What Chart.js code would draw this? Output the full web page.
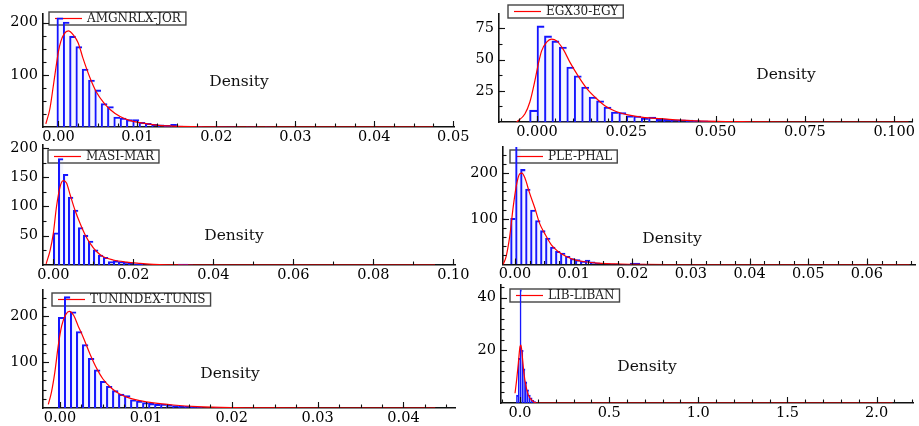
<!DOCTYPE html>
<html><head><meta charset="utf-8">
<script src="https://cdn.jsdelivr.net/npm/chart.js@4.4.1/dist/chart.umd.min.js"></script>
<style>
html,body{margin:0;padding:0;background:#fff;width:919px;height:426px;overflow:hidden}
canvas{position:absolute;left:0;top:0}
</style></head><body>
<canvas id="c1" width="919" height="446"></canvas>
<canvas id="c2" width="919" height="446"></canvas>
<canvas id="c3" width="919" height="446"></canvas>
<canvas id="c4" width="919" height="446"></canvas>
<canvas id="c5" width="919" height="446"></canvas>
<canvas id="c6" width="919" height="446"></canvas>
<script>
// ---------- DATA ----------
// AMGNRLX-JOR
const amgBinStart = -0.0002, amgBinWidth = 0.0008;
const amgCounts = [209, 201, 174, 154, 111, 90, 71, 45, 39, 19, 17, 14, 14, 9, 7, 5, 4, 3, 5, 2, 1.5, 1, 0.8, 0.5, 0.5, 0.3, 0.3, 0.3, 0.5, 0, 0.5, 0.5, 0, 0.5];
const amgDensX = [-0.0016, -0.0011, -0.00066, -0.0003, 0, 0.0003, 0.0007, 0.00125, 0.0019, 0.0025, 0.0031, 0.004, 0.0048, 0.0057, 0.0065, 0.0078, 0.009, 0.0103, 0.0124, 0.0145, 0.018, 0.022, 0.0475];
const amgDensY = [6, 34, 78, 116, 145, 164, 178, 184, 176, 161, 132, 94, 67, 47, 34, 20, 12.6, 8.4, 3.6, 1.8, 0.5, 0, 0];
const amgXTicks = [0, 0.01, 0.02, 0.03, 0.04, 0.05];
const amgYTicks = [100, 200];

// EGX30-EGY
const egxBinStart = -0.0020833, egxBinWidth = 0.0020833;
const egxCounts = [9.5, 77, 69, 65, 60, 44, 37, 28, 20, 17, 12, 8, 7.6, 5, 4.7, 3.2, 3.9, 2.2, 2.2, 1.8, 1.8, 1.5, 1.2, 1.0, 0.8, 0.6, 0.5, 0.5, 0.4];
const egxDensX = [-0.0057, -0.0034, -0.002, -0.0006, 0.0004, 0.0013, 0.0027, 0.0041, 0.0055, 0.0074, 0.0092, 0.0115, 0.0139, 0.0162, 0.019, 0.0218, 0.0255, 0.0302, 0.0348, 0.04, 0.05, 0.06, 0.07, 0.104];
const egxDensY = [0, 6.4, 16, 33, 47, 57, 64, 66.4, 65, 58, 48, 37, 27, 20, 13, 8.8, 5.7, 3.5, 2.7, 1.5, 0.5, 0.2, 0, 0];
const egxXTicks = [0, 0.025, 0.05, 0.075, 0.1];
const egxYTicks = [25, 50, 75];

// MASI-MAR
const masiBinStart = 0, masiBinWidth = 0.00125;
const masiCounts = [55, 182, 155, 116, 94, 64, 51, 41, 26, 17, 13, 6, 7.4, 6, 5, 3.5, 2, 1, 0.5, 0, 0, 0, 0, 0, 0, 1.5, 1.5, 0.5];
const masiDensX = [-0.0018, -0.0008, 0, 0.0008, 0.0017, 0.0025, 0.0033, 0.0042, 0.0054, 0.0067, 0.008, 0.0092, 0.0108, 0.0125, 0.015, 0.0183, 0.0217, 0.025, 0.03, 0.035, 0.0954];
const masiDensY = [2, 25, 54, 100, 134, 144, 140, 120, 94, 71, 51, 37, 23, 14, 8.5, 5, 2.8, 1, 0.3, 0, 0];
const masiXTicks = [0, 0.02, 0.04, 0.06, 0.08, 0.1];
const masiYTicks = [50, 100, 150, 200];

// PLE-PHAL
const pleBinStart = -0.00075, pleBinWidth = 0.00085;
const pleCounts = [101, 300, 208, 165, 119, 96, 74, 58, 38, 29, 25, 18, 13, 10.5, 7.6, 9.8, 6, 3.5, 2.8, 2, 1.5, 1, 0.5, 0.5, 3, 3, 1, 0.5];
const pleDensX = [-0.002, -0.0015, -0.0009, -0.0003, 0.0002, 0.0008, 0.0012, 0.0017, 0.0025, 0.0034, 0.0042, 0.0051, 0.0062, 0.0073, 0.0085, 0.0102, 0.0119, 0.0141, 0.018, 0.022, 0.026, 0.0673];
const pleDensY = [0, 18, 61, 126, 170, 198, 200, 189, 156, 123, 90, 67, 43, 29, 19, 10, 6, 3, 1, 0.3, 0, 0];
const pleXTicks = [0, 0.01, 0.02, 0.03, 0.04, 0.05, 0.06];
const pleYTicks = [100, 200];

// TUNINDEX-TUNIS
const tunBinStart = -0.0002, tunBinWidth = 0.0007;
const tunCounts = [197, 242, 209, 166, 138, 108, 83, 58, 47, 38, 30, 27, 18, 15, 12, 10, 8, 8.7, 7, 5, 4, 3.5, 3, 2, 0.5, 0, 1.5];
const tunDensX = [-0.00136, -0.001, -0.0006, -0.0002, 0.0002, 0.0007, 0.0011, 0.0016, 0.0021, 0.0027, 0.0035, 0.0043, 0.005, 0.006, 0.007, 0.0082, 0.0093, 0.0109, 0.0132, 0.016, 0.02, 0.025, 0.03, 0.0437];
const tunDensY = [8, 34, 78, 136, 179, 204, 210, 201, 179, 154, 117, 85, 63, 43, 30, 21, 16, 11, 6.5, 3, 1, 0.3, 0, 0];
const tunXTicks = [0, 0.01, 0.02, 0.03, 0.04];
const tunYTicks = [100, 200];

// LIB-LIBAN
const libBinStart = -0.02, libBinWidth = 0.01;
const libCounts = [3, 17, 43, 20, 13, 8, 5, 3, 2, 1, 0.5];
const libDensX = [-0.028, -0.019, -0.0095, 0, 0.0056, 0.013, 0.022, 0.034, 0.047, 0.066, 0.094, 2.09];
const libDensY = [3.7, 8.7, 15, 21.4, 22, 17.6, 11.3, 6.2, 3, 1.1, 0, 0];
const libXTicks = [0, 0.5, 1.0, 1.5, 2.0];
const libYTicks = [20, 40];

// ---------- PANELS ----------
const panels = [
  {id:'c1', name:'AMGNRLX-JOR', bs:amgBinStart, bw:amgBinWidth, counts:amgCounts, dx:amgDensX, dy:amgDensY, xt:amgXTicks, yt:amgYTicks, dec:2,
   xMin:-0.00196, xMax:0.0501, yMax:217, xMinor:0.0025, yMinor:25, area:{l:43,t:12,r:454,b:127}, leg:{x:49,y:12}, lab:{x:239,y:86}},
  {id:'c2', name:'EGX30-EGY', bs:egxBinStart, bw:egxBinWidth, counts:egxCounts, dx:egxDensX, dy:egxDensY, xt:egxXTicks, yt:egxYTicks, dec:3,
   xMin:-0.01064, xMax:0.105, yMax:86.8, xMinor:0.005, yMinor:12.5, area:{l:499,t:4,r:912,b:122}, leg:{x:508,y:5}, lab:{x:786,y:79}},
  {id:'c3', name:'MASI-MAR', bs:masiBinStart, bw:masiBinWidth, counts:masiCounts, dx:masiDensX, dy:masiDensY, xt:masiXTicks, yt:masiYTicks, dec:2,
   xMin:-0.00258, xMax:0.1004, yMax:205, xMinor:0.01, yMinor:25, area:{l:43,t:145,r:455,b:265}, leg:{x:48,y:150}, lab:{x:234,y:240}},
  {id:'c4', name:'PLE-PHAL', bs:pleBinStart, bw:pleBinWidth, counts:pleCounts, dx:pleDensX, dy:pleDensY, xt:pleXTicks, yt:pleYTicks, dec:2,
   xMin:-0.00204, xMax:0.0682, yMax:257, xMinor:0.0025, yMinor:20, area:{l:503,t:147,r:915,b:264.5}, leg:{x:510,y:150}, lab:{x:672,y:243}},
  {id:'c5', name:'TUNINDEX-TUNIS', bs:tunBinStart, bw:tunBinWidth, counts:tunCounts, dx:tunDensX, dy:tunDensY, xt:tunXTicks, yt:tunYTicks, dec:2,
   xMin:-0.00198, xMax:0.046, yMax:256.5, xMinor:0.0025, yMinor:20, area:{l:43,t:290,r:455,b:408}, leg:{x:52,y:293}, lab:{x:230,y:378}},
  {id:'c6', name:'LIB-LIBAN', bs:libBinStart, bw:libBinWidth, counts:libCounts, dx:libDensX, dy:libDensY, xt:libXTicks, yt:libYTicks, dec:1,
   xMin:-0.1066, xMax:2.204, yMax:44.8, xMinor:0.1, yMinor:4, area:{l:501,t:285,r:913,b:403}, leg:{x:510,y:289}, lab:{x:647,y:371}}
];

const FONT = '"DejaVu Serif", "Liberation Serif", serif';
const YW = 40, XH = 22, CW = 919, CH = 446;

function makePanel(p) {
  const bars = p.counts.map((c, i) => ({x: p.bs + p.bw * (i + 0.5), y: c}));
  const dens = p.dx.map((x, i) => ({x: x, y: p.dy[i]}));
  const deco = {
    id: 'deco_' + p.id,
    beforeDatasetsDraw(chart) {
      const ctx = chart.ctx;
      ctx.save();
      ctx.font = '12px ' + FONT;
      const tw = ctx.measureText(p.name).width;
      const lx = p.leg.x, ly = p.leg.y, h = 13, w = 39 + tw + 4;
      ctx.fillStyle = '#fff';
      ctx.fillRect(lx, ly, w, h);
      ctx.strokeStyle = '#444'; ctx.lineWidth = 1.4;
      ctx.strokeRect(lx, ly, w, h);
      ctx.strokeStyle = '#ff0000'; ctx.lineWidth = 1.2;
      ctx.beginPath(); ctx.moveTo(lx + 6, ly + h / 2); ctx.lineTo(lx + 33, ly + h / 2); ctx.stroke();
      ctx.fillStyle = '#222'; ctx.textBaseline = 'middle'; ctx.textAlign = 'left';
      ctx.fillText(p.name, lx + 38, ly + h / 2 + 0.5);
      ctx.font = '15.5px ' + FONT;
      ctx.textAlign = 'center'; ctx.textBaseline = 'alphabetic'; ctx.fillStyle = '#111';
      ctx.fillText('Density', p.lab.x, p.lab.y);
      ctx.restore();
    },
    afterDatasetsDraw(chart) {
      const {ctx, chartArea: a, scales: {x, y}} = chart;
      ctx.save();
      ctx.strokeStyle = '#111'; ctx.lineWidth = 1.1;
      const xMark = (v, len) => { const px = Math.round(x.getPixelForValue(v)) + 0.5; ctx.beginPath(); ctx.moveTo(px, a.bottom); ctx.lineTo(px, a.bottom - len); ctx.stroke(); };
      const yMark = (v, len) => { const py = Math.round(y.getPixelForValue(v)) + 0.5; ctx.beginPath(); ctx.moveTo(a.left, py); ctx.lineTo(a.left + len, py); ctx.stroke(); };
      for (let k = Math.ceil(x.min / p.xMinor - 1e-9); k * p.xMinor <= x.max + 1e-12; k++) xMark(k * p.xMinor, 3.5);
      p.xt.forEach(v => xMark(v, 6));
      for (let k = 1; k * p.yMinor <= y.max + 1e-12; k++) yMark(k * p.yMinor, 3.5);
      p.yt.forEach(v => yMark(v, 6));
      ctx.restore();
    }
  };
  const tickFont = {family: FONT, size: 14.5};
  return new Chart(document.getElementById(p.id), {
    type: 'bar',
    data: {datasets: [
      {type: 'line', data: dens, borderColor: '#ff0000', borderWidth: 1.2, pointRadius: 0,
       cubicInterpolationMode: 'monotone', fill: false, order: 0},
      {type: 'bar', data: bars, backgroundColor: 'rgba(120,140,255,0.08)', borderColor: '#1414ff',
       borderWidth: {top: 1.4, left: 1.4, right: 0, bottom: 0}, borderSkipped: 'start',
       barPercentage: 1, categoryPercentage: 1, clip: 0, order: 1}
    ]},
    options: {
      responsive: false, animation: false, events: [],
      layout: {padding: {left: p.area.l - YW, top: p.area.t, right: CW - p.area.r, bottom: CH - p.area.b - XH}},
      plugins: {legend: {display: false}, tooltip: {enabled: false}},
      scales: {
        x: {type: 'linear', min: p.xMin, max: p.xMax, offset: false,
            afterBuildTicks: s => { s.ticks = p.xt.map(v => ({value: v})); },
            afterFit: s => { s.height = XH; },
            ticks: {autoSkip: false, maxRotation: 0, minRotation: 0, padding: 1.5, color: '#000', font: tickFont,
                    callback: v => Number(v).toFixed(p.dec)},
            grid: {display: false, drawTicks: false},
            border: {display: true, color: '#111', width: 1.6}},
        y: {type: 'linear', min: 0, max: p.yMax,
            afterBuildTicks: s => { s.ticks = p.yt.map(v => ({value: v})); },
            afterFit: s => { s.width = YW; },
            ticks: {autoSkip: false, padding: 5, color: '#000', font: tickFont, callback: v => String(v)},
            grid: {display: false, drawTicks: false},
            border: {display: true, color: '#111', width: 1.6}}
      }
    },
    plugins: [deco]
  });
}
panels.forEach(makePanel);
</script>
</body></html>
